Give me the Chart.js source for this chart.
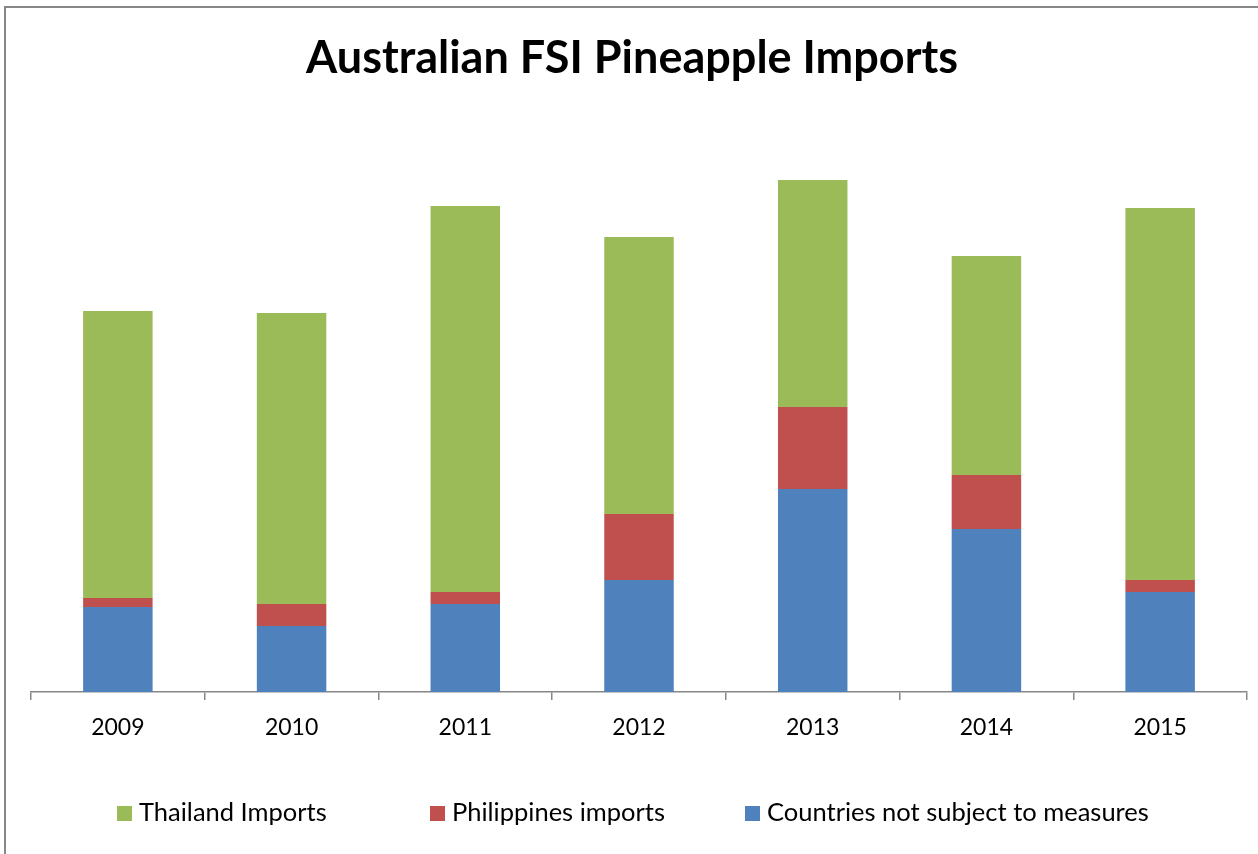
<!DOCTYPE html>
<html>
<head>
<meta charset="utf-8">
<title>Australian FSI Pineapple Imports</title>
<script src="https://cdn.jsdelivr.net/npm/chart.js@4.4.1/dist/chart.umd.min.js"></script>
<style>
  html, body { margin: 0; padding: 0; background: #fff; }
  #wrap { position: relative; width: 1258px; height: 854px; }
</style>
</head>
<body>
<div id="wrap"><canvas id="chart"></canvas></div>
<script>
const years = ['2009', '2010', '2011', '2012', '2013', '2014', '2015'];
const otherCountries = [85, 66, 88, 112, 203, 163, 100];
const philippines = [9, 22, 12, 66, 82, 54, 12];
const thailand = [287, 291, 386, 277, 227, 219, 372];

const FONT = 'Lato, "Open Sans", sans-serif';
const GREY = '#878787';

// outer frame, title and the three-column legend underneath
const decorations = {
  id: 'decorations',
  beforeDraw(chart) {
    const ctx = chart.ctx;
    ctx.save();
    ctx.fillStyle = '#fff';
    ctx.fillRect(0, 0, chart.width, chart.height);
    ctx.strokeStyle = GREY;
    ctx.lineWidth = 2;
    ctx.beginPath();
    ctx.moveTo(5, chart.height);
    ctx.lineTo(5, 7);
    ctx.lineTo(chart.width, 7);
    ctx.stroke();
    ctx.restore();
  },
  afterDraw(chart) {
    const ctx = chart.ctx;
    ctx.save();
    ctx.fillStyle = '#000';
    ctx.textAlign = 'center';
    ctx.textBaseline = 'middle';
    ctx.font = 'bold 45px ' + FONT;
    ctx.fillText('Australian FSI Pineapple Imports', 632, 58);

    // legend lists the stack top-down
    const cols = [117, 430, 745];
    const items = chart.data.datasets.slice().reverse();
    ctx.font = '25.5px ' + FONT;
    ctx.textAlign = 'left';
    items.forEach((ds, i) => {
      ctx.fillStyle = ds.backgroundColor;
      ctx.fillRect(cols[i], 806, 15, 15);
      ctx.fillStyle = '#000';
      ctx.fillText(ds.label, cols[i] + 22, 813);
    });
    ctx.restore();
  }
};

new Chart(document.getElementById('chart'), {
  type: 'bar',
  data: {
    labels: years,
    datasets: [
      { label: 'Countries not subject to measures', data: otherCountries, backgroundColor: '#4F81BD' },
      { label: 'Philippines imports', data: philippines, backgroundColor: '#C0504D' },
      { label: 'Thailand Imports', data: thailand, backgroundColor: '#9BBB59' }
    ]
  },
  options: {
    responsive: true,
    maintainAspectRatio: false,
    animation: false,
    devicePixelRatio: 1,
    layout: { padding: { top: 161, left: 31, right: 11, bottom: 0 } },
    datasets: {
      bar: { categoryPercentage: 1, barPercentage: 0.4, borderWidth: 0 }
    },
    plugins: {
      legend: { display: false },
      title: { display: false },
      tooltip: { enabled: false }
    },
    scales: {
      x: {
        stacked: true,
        afterFit(scale) { scale.height = 162; },
        border: { display: true, color: GREY, width: 1.5 },
        grid: {
          offset: true,
          drawOnChartArea: false,
          drawTicks: true,
          tickLength: 8,
          color: GREY,
          lineWidth: 1.5
        },
        ticks: {
          color: '#000',
          padding: 14,
          font: { family: FONT, size: 23 }
        }
      },
      y: {
        stacked: true,
        display: false,
        min: 0,
        max: 531
      }
    }
  },
  plugins: [decorations]
});
</script>
</body>
</html>
